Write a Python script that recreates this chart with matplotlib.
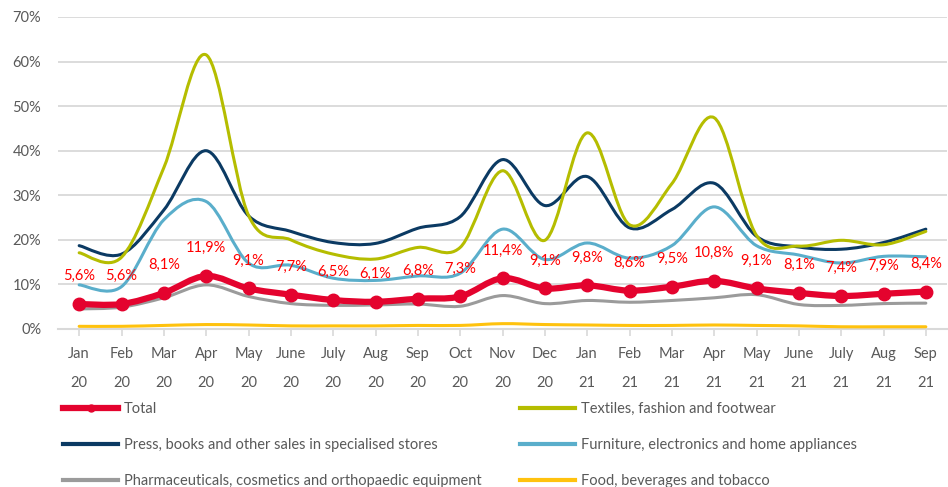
import matplotlib
matplotlib.use('Agg')
import matplotlib.pyplot as plt
from matplotlib.path import Path
from matplotlib.patches import PathPatch
from matplotlib.lines import Line2D

months = ['Jan\n20', 'Feb\n20', 'Mar\n20', 'Apr\n20', 'May\n20', 'June\n20', 'July\n20',
          'Aug\n20', 'Sep\n20', 'Oct\n20', 'Nov\n20', 'Dec\n20', 'Jan\n21', 'Feb\n21',
          'Mar\n21', 'Apr\n21', 'May\n21', 'June\n21', 'July\n21', 'Aug\n21', 'Sep\n21']

total = [5.6, 5.6, 8.1, 11.9, 9.1, 7.7, 6.5, 6.1, 6.8, 7.3, 11.4, 9.1, 9.8, 8.6,
         9.5, 10.8, 9.1, 8.1, 7.4, 7.9, 8.4]
textiles = [17.1, 16.1, 36.2, 61.5, 25.5, 20.0, 16.8, 15.7, 18.3, 18.3, 35.5, 19.9, 44.0,
            23.4, 32.6, 47.4, 21.0, 18.6, 19.9, 18.9, 21.9]
press = [18.7, 16.8, 26.7, 40.0, 25.4, 21.9, 19.4, 19.2, 22.6, 25.2, 38.0, 27.7, 34.2,
         22.7, 26.8, 32.7, 20.8, 18.4, 17.9, 19.4, 22.4]
furniture = [9.9, 9.5, 24.5, 28.6, 14.8, 14.3, 11.4, 10.9, 11.9, 12.5, 22.4, 15.6, 19.3,
             15.9, 18.7, 27.4, 18.7, 16.6, 14.8, 16.3, 16.2]
pharma = [4.5, 4.9, 7.0, 9.9, 7.3, 5.7, 5.3, 5.4, 5.6, 5.1, 7.5, 5.7, 6.4, 6.0, 6.4,
          7.0, 7.7, 5.5, 5.3, 5.7, 5.8]
food = [0.6, 0.6, 0.8, 1.0, 0.9, 0.7, 0.7, 0.7, 0.8, 0.8, 1.2, 1.0, 0.9, 0.8, 0.8,
        0.9, 0.8, 0.7, 0.5, 0.5, 0.5]

names = ['Total', 'Textiles, fashion and footwear',
         'Press, books and other sales in specialised stores',
         'Furniture, electronics and home appliances',
         'Pharmaceuticals, cosmetics and orthopaedic equipment',
         'Food, beverages and tobacco']

RED = '#E4032E'
OLIVE = '#B5BD00'
NAVY = '#0B3A63'
BLUE = '#5AAECB'
GREY = '#9B9B9B'
GOLD = '#FFC20E'

plt.rcParams['font.family'] = ['Lato', 'DejaVu Sans']


def smooth_path(ys):
    # cubic Bezier through every point, Catmull-Rom style tangents
    xs = list(range(len(ys)))
    pts = list(zip(xs, ys))
    n = len(pts)
    verts = [pts[0]]
    codes = [Path.MOVETO]
    for i in range(n - 1):
        p0 = pts[max(i - 1, 0)]
        p1 = pts[i]
        p2 = pts[i + 1]
        p3 = pts[min(i + 2, n - 1)]
        c1 = (p1[0] + (p2[0] - p0[0]) / 6, p1[1] + (p2[1] - p0[1]) / 6)
        c2 = (p2[0] - (p3[0] - p1[0]) / 6, p2[1] - (p3[1] - p1[1]) / 6)
        verts += [c1, c2, p2]
        codes += [Path.CURVE4] * 3
    return Path(verts, codes)


def main():
    fig = plt.figure(figsize=(9.48, 4.87), dpi=100)
    ax = fig.add_axes([58 / 948, 158 / 487, 889 / 948, 312 / 487])

    x = range(len(months))
    ax.set_xlim(-0.5, len(months) - 0.5)
    ax.set_ylim(0, 70)

    series = [(food, GOLD, 2.2), (pharma, GREY, 2.2), (furniture, BLUE, 2.2),
              (press, NAVY, 2.2), (textiles, OLIVE, 2.2)]
    for ys, col, lw in series:
        ax.add_patch(PathPatch(smooth_path(ys), fill=False, edgecolor=col, lw=lw,
                               capstyle='round', joinstyle='round', zorder=3))

    ax.add_patch(PathPatch(smooth_path(total), fill=False, edgecolor=RED, lw=4.5,
                           capstyle='round', zorder=4))
    ax.plot(x, total, 'o', color=RED, markersize=9, zorder=5)

    for i, v in enumerate(total):
        ax.annotate(f'{v:.1f}%'.replace('.', ','), (i, v), xytext=(0, 20),
                    textcoords='offset points', ha='center', va='center',
                    color='#FF0000', fontsize=10.5, zorder=6)

    ax.set_yticks(range(0, 71, 10))
    ax.set_yticklabels([f'{t}%' for t in range(0, 71, 10)])
    ax.set_xticks(list(x))
    ax.set_xticklabels(months, linespacing=2.35)
    ax.grid(axis='y', color='#D9D9D9', lw=1.3)
    ax.set_axisbelow(True)
    for s in ['top', 'right', 'left']:
        ax.spines[s].set_visible(False)
    ax.spines['bottom'].set_color('#D9D9D9')
    ax.spines['bottom'].set_linewidth(1.5)
    ax.tick_params(axis='y', length=0, pad=12, labelsize=10.5, labelcolor='#595959')
    ax.tick_params(axis='x', length=5, width=1.2, color='#D9D9D9', pad=8,
                   labelsize=10.5, labelcolor='#595959')

    handles = [Line2D([], [], color=RED, lw=4.5, marker='o', markersize=5),
               Line2D([], [], color=OLIVE, lw=3),
               Line2D([], [], color=NAVY, lw=3),
               Line2D([], [], color=BLUE, lw=3),
               Line2D([], [], color=GREY, lw=3),
               Line2D([], [], color=GOLD, lw=3)]
    kw = dict(loc='center left', frameon=False, borderpad=0, borderaxespad=0,
              handlelength=3.8, handletextpad=0.35, labelspacing=1.5,
              fontsize=10.5, labelcolor='#595959')
    # two single-column legends, one per column
    fig.legend([handles[0], handles[2], handles[4]],
               [names[0], names[2], names[4]],
               bbox_to_anchor=(63 / 948, 42 / 487), **kw)
    fig.legend([handles[1], handles[3], handles[5]],
               [names[1], names[3], names[5]],
               bbox_to_anchor=(520 / 948, 42 / 487), **kw)

    fig.savefig('out.png', dpi=100)


if __name__ == "__main__":
    main()
